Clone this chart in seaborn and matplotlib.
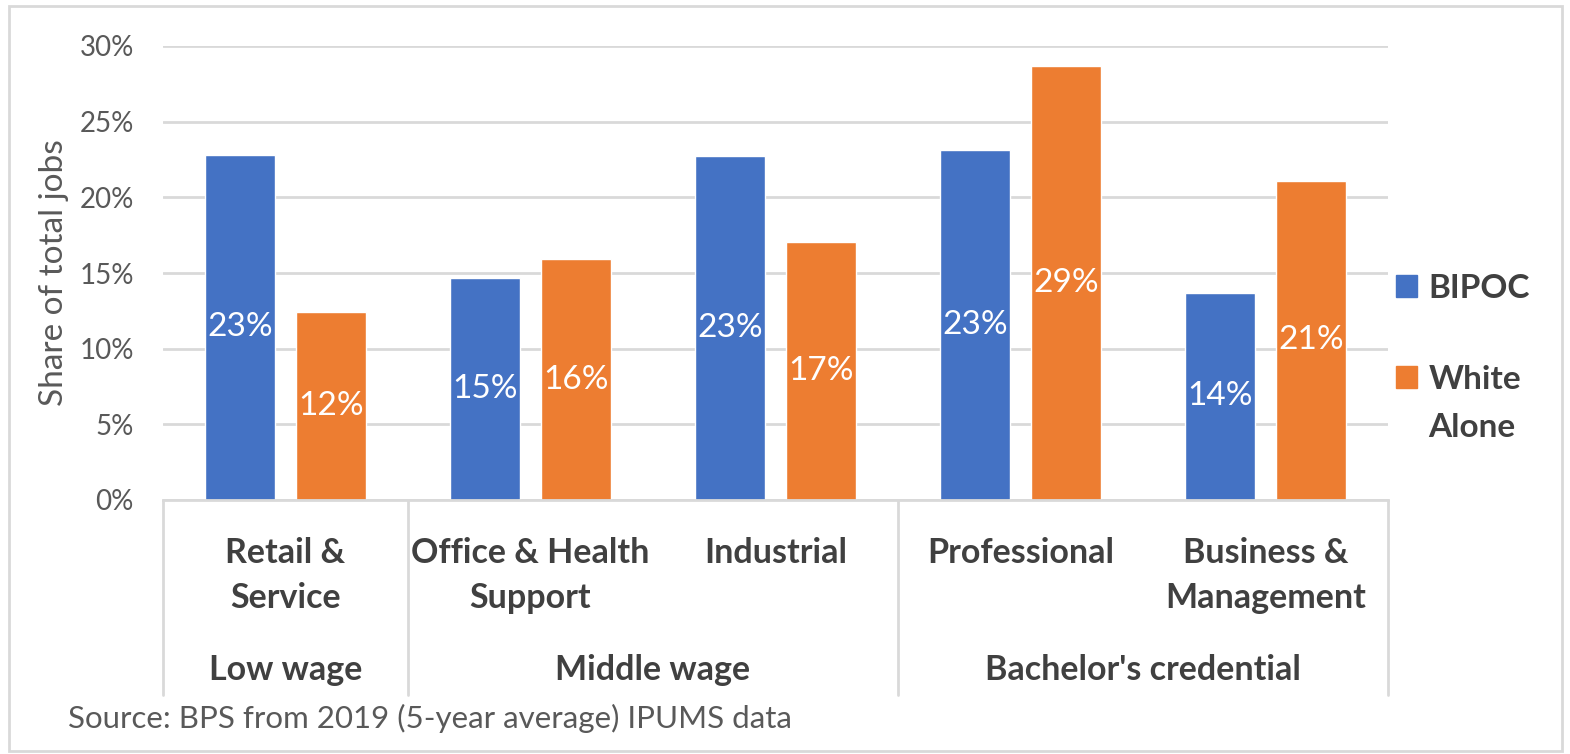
import matplotlib
matplotlib.use("Agg")
import matplotlib.pyplot as plt
import matplotlib.patches as mpatches
import matplotlib.transforms as mtransforms
import pandas as pd
import seaborn as sns

# Occupation groups and their wage tiers
categories = ["Retail &\nService", "Office & Health\nSupport", "Industrial",
              "Professional", "Business &\nManagement"]
tiers = ["Low wage", "Middle wage", "Bachelor's credential"]
tier_spans = [(0, 0), (1, 2), (3, 4)]

# Share of total jobs (%) by race group
bipoc = [22.8, 14.7, 22.7, 23.1, 13.7]
white_alone = [12.4, 15.9, 17.05, 28.7, 21.1]
series_names = ["BIPOC", "White Alone"]

y_ticks = [0, 5, 10, 15, 20, 25, 30]
source_note = "Source: BPS from 2019 (5-year average) IPUMS data"

BLUE = "#4472C4"
ORANGE = "#ED7D31"
TEXT = "#595959"
DARK = "#404040"
GRID = "#D9D9D9"
FONT = "Lato"
W, H = 1570, 754

df = pd.DataFrame({
    "category": categories * 2,
    "share": bipoc + white_alone,
    "group": [series_names[0]] * len(categories) + [series_names[1]] * len(categories),
})

sns.set_theme(style="white")
plt.rcParams["font.family"] = [FONT, "DejaVu Sans"]

fig = plt.figure(figsize=(W / 100, H / 100), dpi=100)
ax = fig.add_axes([163 / W, 1 - 500 / H, 1225 / W, 454 / H])

sns.barplot(data=df, x="category", y="share", hue="group", order=categories,
            hue_order=series_names, palette=[BLUE, ORANGE], width=0.743, gap=0.23,
            saturation=1, ax=ax, errorbar=None)

ax.set_ylim(0, 30)
ax.set_xlim(-0.5, len(categories) - 0.5)
ax.set_yticks(y_ticks)
ax.set_yticklabels([f"{t}%" for t in y_ticks], fontsize=20, color=TEXT)
ax.tick_params(axis="y", length=0, pad=21)
ax.yaxis.grid(True, color=GRID, linewidth=2)
ax.set_axisbelow(True)
ax.set_xticks([])
ax.set_xlabel("")
ax.set_ylabel("Share of total jobs", fontsize=24, color=TEXT)
ax.yaxis.set_label_coords(-0.077, 0.5)
for side in ["top", "right", "left"]:
    ax.spines[side].set_visible(False)
ax.spines["bottom"].set_color(GRID)
ax.spines["bottom"].set_linewidth(2)

# Value labels centred inside each bar
for container in ax.containers:
    ax.bar_label(container, labels=[f"{v:.0f}%" for v in container.datavalues],
                 label_type="center", color="white", fontsize=24)

# Two-level category axis below the plot
trans = mtransforms.blended_transform_factory(ax.transData, ax.transAxes)
for i, name in enumerate(categories):
    ax.text(i, (500 - 537) / 454, name, transform=trans, ha="center", va="top",
            fontsize=24.5, fontweight="bold", color=DARK, linespacing=1.5)
for name, (a, b) in zip(tiers, tier_spans):
    ax.text((a + b) / 2, (500 - 680) / 454, name, transform=trans, ha="center",
            va="baseline", fontsize=24.5, fontweight="bold", color=DARK)
for xb in [-0.5, 0.5, 2.5, 4.5]:
    ax.plot([xb, xb], [0, (500 - 695) / 454], transform=trans, color=GRID,
            linewidth=2, clip_on=False)

# Legend on the right; the second label wraps onto a second line
ax.get_legend().remove()
handles = [mpatches.Patch(color=BLUE), mpatches.Patch(color=ORANGE)]
first_words = [n.split(" ")[0] for n in series_names]
leg = fig.legend(handles, first_words, loc="upper left",
                 bbox_to_anchor=(1396 / W, 1 - 274 / H), frameon=False,
                 handlelength=0.62, handleheight=0.62, handletextpad=0.35,
                 labelspacing=1.85, borderpad=0, borderaxespad=0,
                 prop={"family": FONT, "size": 24, "weight": "bold"})
for t in leg.get_texts():
    t.set_color(DARK)
fig.canvas.draw()
white_bb = leg.get_texts()[1].get_window_extent()
fig.text(white_bb.x0 / W, (white_bb.y0 - 48) / H, series_names[1].split(" ", 1)[1],
         fontsize=24, fontweight="bold", color=DARK, ha="left", va="bottom")

fig.text(68 / W, 1 - 718 / H, source_note, fontsize=22.5, color=TEXT,
         va="center", ha="left")

# Light frame around the whole chart
fig.patches.append(mpatches.Rectangle((9 / W, 3 / H), 1553 / W, 745 / H,
                                      transform=fig.transFigure, fill=False,
                                      edgecolor=GRID, linewidth=2))

fig.savefig("out.png", dpi=100)
